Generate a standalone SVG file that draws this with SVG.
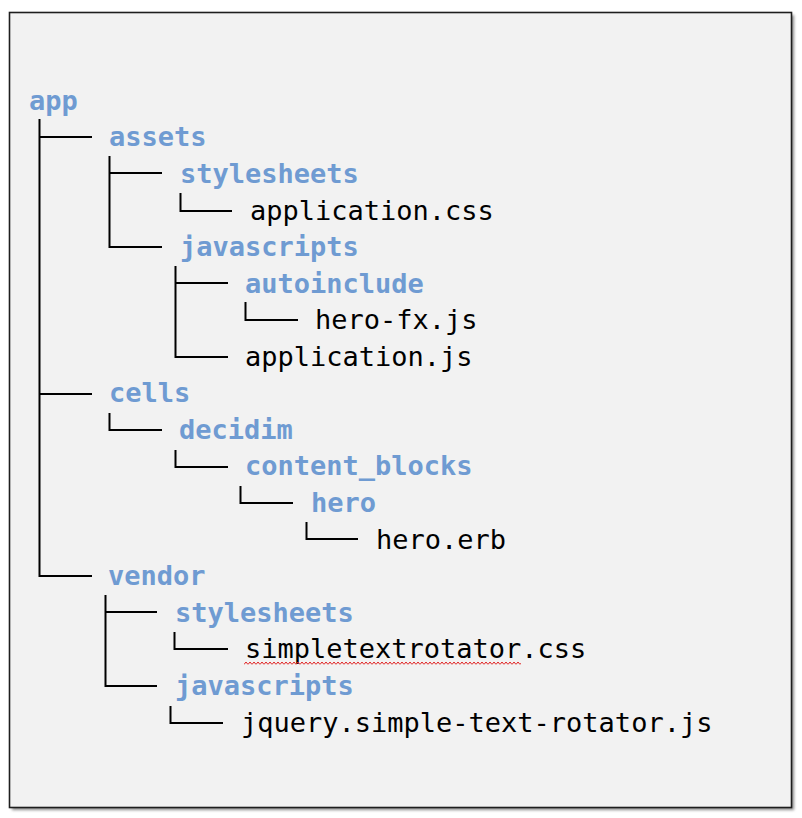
<svg xmlns="http://www.w3.org/2000/svg" width="802" height="818" viewBox="0 0 802 818">
<style>
text{font-family:"DejaVu Sans Mono","Liberation Mono",monospace;font-size:27px}
.d{fill:#6f9bd2;font-weight:bold}
.f{fill:#000}
.ln{stroke:#000;stroke-width:2;fill:none}
</style>
<defs>
<filter id="sh" x="-5%" y="-5%" width="110%" height="110%"><feGaussianBlur stdDeviation="1.5"/></filter>
<pattern id="wave" x="244" y="661" width="4" height="4" patternUnits="userSpaceOnUse">
<path d="M0 3.5L2 1L4 3.5" fill="none" stroke="#e02020" stroke-width="1"/>
</pattern>
</defs>
<rect x="0" y="0" width="802" height="818" fill="#fff"/>
<rect x="12" y="15" width="782" height="795" fill="#8a8a8a" filter="url(#sh)"/>
<rect x="9.5" y="12.5" width="782" height="795" fill="#f2f2f2" stroke="#1e1e1e" stroke-width="1.6"/>
<g id="connectors" class="ln">
<path d="M39.5 119V576H92M39.5 137H92M39.5 394H92"/>
<path d="M109.5 156V247H162M109.5 173H162"/>
<path d="M180.5 193V211H232"/>
<path d="M175.5 266V357H228M175.5 283H228"/>
<path d="M245.5 302V320H298"/>
<path d="M109.5 413V430H162"/>
<path d="M175.5 450V467H228"/>
<path d="M240.5 486V503H293"/>
<path d="M306.5 522V539H358"/>
<path d="M105.5 595V686H157M105.5 612H157"/>
<path d="M174.5 632V649H228"/>
<path d="M170.5 706V723H223"/>
</g>
<g id="n-app"><text class="d" x="29" y="110">app</text></g>
<g id="n-assets"><text class="d" x="109" y="146">assets</text></g>
<g id="n-stylesheets1"><text class="d" x="180" y="183">stylesheets</text></g>
<g id="n-applicationcss"><text class="f" x="250" y="220">application.css</text></g>
<g id="n-javascripts1"><text class="d" x="180" y="256">javascripts</text></g>
<g id="n-autoinclude"><text class="d" x="245" y="293">autoinclude</text></g>
<g id="n-herofx"><text class="f" x="315" y="329">hero-fx.js</text></g>
<g id="n-applicationjs"><text class="f" x="245" y="366">application.js</text></g>
<g id="n-cells"><text class="d" x="109" y="402">cells</text></g>
<g id="n-decidim"><text class="d" x="179" y="439">decidim</text></g>
<g id="n-contentblocks"><text class="d" x="245" y="475">content_blocks</text></g>
<g id="n-hero"><text class="d" x="311" y="512">hero</text></g>
<g id="n-heroerb"><text class="f" x="376" y="549">hero.erb</text></g>
<g id="n-vendor"><text class="d" x="108" y="585">vendor</text></g>
<g id="n-stylesheets2"><text class="d" x="175" y="622">stylesheets</text></g>
<g id="n-simpletextcss"><text class="f" x="245" y="658">simpletextrotator.css</text>
<rect x="244" y="661" width="277" height="4.5" fill="url(#wave)"/></g>
<g id="n-javascripts2"><text class="d" x="175" y="695">javascripts</text></g>
<g id="n-jquery"><text class="f" x="241" y="732">jquery.simple-text-rotator.js</text></g>
</svg>
